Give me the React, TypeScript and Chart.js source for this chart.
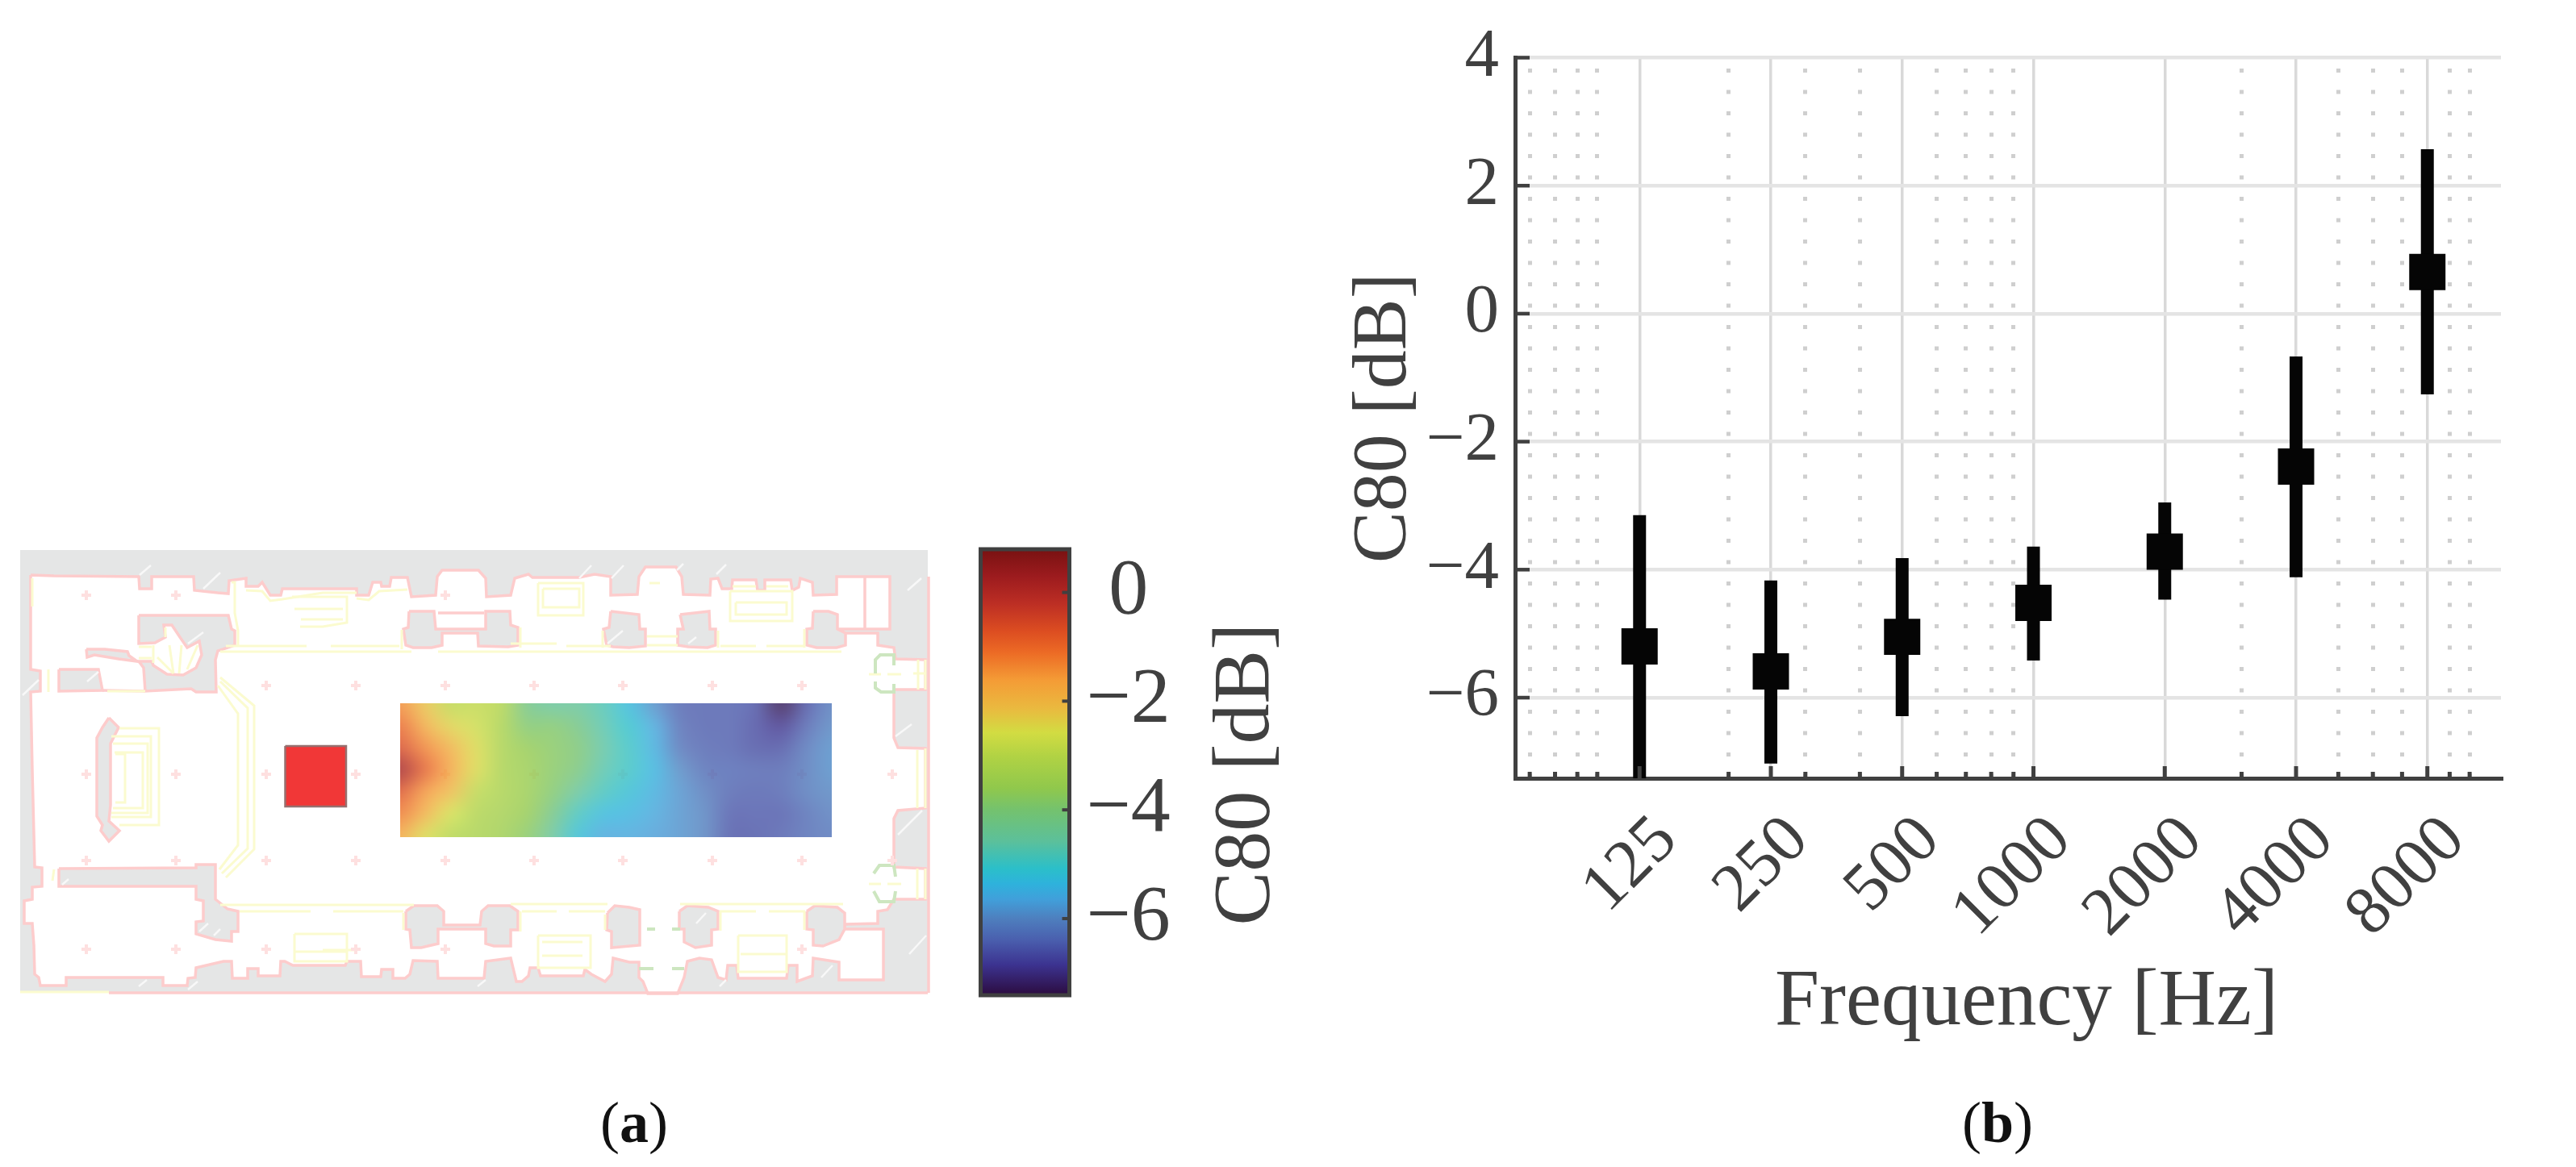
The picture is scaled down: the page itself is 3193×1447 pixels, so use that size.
import React, { useEffect, useRef } from "react";
import { Chart, registerables } from "chart.js";

Chart.register(...registerables);

/* ---------- right panel: C80 against frequency ---------- */
const frequencies = [125, 250, 500, 1000, 2000, 4000, 8000];
const c80Mean = [-5.2, -5.59, -5.05, -4.52, -3.72, -2.39, 0.65];
const c80High = [-3.15, -4.17, -3.82, -3.64, -2.95, -0.67, 2.57];
const c80Low = [-7.9, -7.03, -6.29, -5.42, -4.47, -4.12, -1.26];
const minorFrequencies = [70, 80, 90, 100, 200, 300, 400, 600, 700, 800, 900, 3000, 5000, 6000, 7000, 9000, 10000];
const c80Ticks = [-6, -4, -2, 0, 2, 4];

/* ---------- colour bar ---------- */
const barTicks = [-6, -4, -2, 0];
const cmapValues = [0.77, 0.3, -0.2, -0.71, -1.1, -1.62, -2.13, -2.58, -3.03, -3.6, -4.0, -4.57, -5.08, -5.36, -5.65, -6.0, -6.39, -6.85, -7.4];
const cmapColors = ["#7a1212", "#9c1b1e", "#bc2e24", "#dc4d21", "#ec6a25", "#f49c36", "#eab93f", "#d2dc42", "#b0d244", "#90c84c", "#74c26e", "#5cc09a", "#2bbfc9", "#2eb2dc", "#419fda", "#4e7fbe", "#4a5fae", "#3c3390", "#2c0c40"];

/* ---------- heat map over the floor plan (rows top to bottom) ---------- */
const heatXs = [496, 527.5, 559, 590.5, 622, 653.5, 685, 716.5, 748, 779.5, 811, 842.5, 874, 905.5, 937, 968.5, 1000, 1031.5];
const heatYs = [873, 900, 927, 954, 981, 1008, 1036];
const heatValues = [
  [-1.4, -2.2, -2.9, -2.85, -3.1, -4.2, -4.5, -4.5, -4.8, -5.3, -5.9, -6.4, -6.45, -6.45, -6.6, -7.3, -6.6, -6.1],
  [-1.0, -1.8, -2.4, -2.7, -3.2, -3.9, -3.9, -4.2, -4.7, -5.1, -5.6, -6.3, -6.45, -6.45, -6.65, -6.9, -6.4, -6.0],
  [-0.6, -1.3, -1.9, -2.5, -3.2, -3.6, -3.8, -4.0, -4.6, -5.0, -5.5, -6.2, -6.4, -6.45, -6.6, -6.6, -6.2, -5.9],
  [0.2, -0.9, -1.7, -2.5, -3.2, -3.5, -3.8, -4.1, -4.7, -5.0, -5.4, -5.95, -6.3, -6.35, -6.4, -6.4, -6.15, -5.9],
  [-0.7, -1.5, -2.1, -2.9, -3.2, -3.5, -3.9, -4.5, -4.9, -5.2, -5.5, -5.85, -6.15, -6.4, -6.45, -6.4, -6.15, -6.0],
  [-1.2, -1.9, -2.6, -3.1, -3.3, -3.6, -4.2, -4.9, -5.3, -5.4, -5.6, -5.85, -6.05, -6.5, -6.5, -6.5, -6.3, -6.1],
  [-1.7, -2.5, -3.0, -3.2, -3.4, -3.8, -4.5, -5.2, -5.6, -5.6, -5.7, -5.85, -6.05, -6.55, -6.55, -6.45, -6.3, -6.2],
];
const heatBounds = { left: 496, right: 1031, top: 872, bottom: 1038 };

/* ---------- floor plan, in plan units ---------- */
type P = [number, number];
const outline: P[] = [[25, 682], [1150, 682], [1150, 1231], [25, 1231]];
const openFloor: P[] = [
  [38, 713], [67, 714], [172, 715], [173, 730], [188, 730], [188, 715], [240, 715], [241, 732], [270, 735], [283, 736], [284, 720], [305, 717], [305, 727], [320, 727], [325, 722], [335, 738], [348, 738], [350, 730],
  [442, 730], [442, 738], [457, 738], [462, 722], [472, 722], [473, 727], [483, 727], [485, 716], [505, 716], [510, 740], [540, 738], [542, 715], [548, 707], [593, 707], [602, 717], [603, 740], [633, 738], [638, 717], [655, 712], [660, 716], [718, 716], [737, 712], [757, 715], [757, 738],
  [790, 737], [792, 715], [800, 703], [838, 703], [845, 715], [847, 737], [880, 738], [881, 718], [890, 717], [895, 730], [907, 730], [908, 719], [937, 719], [939, 732], [948, 732], [948, 719], [980, 719], [982, 732], [990, 728], [992, 717], [1007, 722], [1008, 738], [1037, 737], [1037, 715], [1103, 715], [1103, 780], [1038, 780],
  [1048, 785], [1088, 785], [1088, 800], [1108, 803], [1110, 817], [1147, 818], [1147, 855], [1108, 855], [1108, 915], [1113, 927], [1147, 928], [1147, 1002], [1113, 1005], [1108, 1015], [1108, 1075], [1147, 1077], [1147, 1115], [1108, 1115], [1100, 1128], [1088, 1130], [1088, 1145], [1048, 1146], [1042, 1152], [1095, 1152], [1095, 1215], [1040, 1215], [1040, 1193], [1008, 1188],
  [1007, 1210], [988, 1217], [988, 1197], [977, 1197], [975, 1213], [915, 1213], [913, 1197], [902, 1197], [900, 1215], [890, 1212], [882, 1190], [867, 1188], [852, 1192], [848, 1212], [840, 1232], [803, 1232], [797, 1217], [792, 1212], [792, 1193], [780, 1193],
  [760, 1188], [758, 1208], [750, 1217], [733, 1208], [725, 1202], [723, 1210], [670, 1210], [667, 1200], [657, 1200], [655, 1210], [647, 1217], [640, 1217], [633, 1188], [602, 1192], [600, 1213], [543, 1213], [542, 1192], [512, 1191], [508, 1208], [502, 1213], [488, 1213], [487, 1202], [473, 1202], [472, 1211], [448, 1211], [447, 1192], [430, 1192], [428, 1197],
  [363, 1197], [353, 1192], [348, 1192], [347, 1210], [320, 1210], [320, 1201], [307, 1201], [307, 1213], [288, 1213], [287, 1192], [277, 1192], [243, 1200], [242, 1212], [233, 1213], [232, 1222], [202, 1222], [202, 1212], [82, 1212], [82, 1222], [50, 1222], [48, 1212], [43, 1208], [42, 1172], [40, 1145], [30, 1145], [30, 1117], [40, 1115], [40, 1100], [52, 1099], [52, 1076], [43, 1075], [40, 955], [38, 858], [50, 857], [50, 832], [38, 830],
];
const stairBlock: P[] = [[172, 763], [283, 763], [287, 780], [291, 782], [291, 800], [270, 807], [267, 818], [268, 858], [243, 858], [237, 854], [180, 857], [178, 828], [172, 820], [188, 820], [190, 825], [207, 836], [227, 837], [243, 828], [250, 812], [247, 795], [232, 803], [223, 790], [213, 775], [203, 775], [205, 790], [192, 797], [172, 798]];
const stairSpur: P[] = [[107, 805], [130, 805], [158, 808], [160, 813], [170, 820], [147, 817], [117, 812], [108, 815]];
const sideBlock: P[] = [[73, 830], [122, 830], [127, 856], [73, 857]];
const altarSpindle: P[] = [[135, 890], [147, 902], [137, 922], [137, 998], [135, 1018], [148, 1030], [135, 1043], [125, 1030], [127, 1023], [120, 1012], [120, 915], [127, 902]];
const sacristyWall: P[] = [[73, 1077], [243, 1076], [243, 1072], [267, 1072], [267, 1115], [282, 1127], [295, 1130], [295, 1155], [287, 1155], [287, 1167], [267, 1165], [243, 1158], [243, 1143], [252, 1142], [252, 1117], [243, 1115], [243, 1099], [73, 1099]];
const northPierA: P[] = [[507, 758], [538, 758], [540, 780], [602, 780], [602, 758], [632, 758], [633, 775], [642, 778], [642, 800], [630, 802], [593, 801], [592, 785], [548, 785], [548, 800], [535, 803], [512, 803], [503, 800], [500, 780], [506, 778]];
const northPierB: P[] = [[757, 758], [792, 762], [793, 780], [800, 780], [800, 801], [780, 803], [760, 802], [752, 800], [748, 780], [755, 778]];
const northPierC: P[] = [[843, 762], [879, 758], [880, 780], [887, 780], [887, 800], [877, 803], [853, 802], [840, 800], [840, 780], [847, 780]];
const northPierD: P[] = [[1008, 758], [1027, 758], [1038, 762], [1038, 780], [1048, 785], [1048, 800], [1037, 803], [1012, 803], [1000, 800], [1000, 780], [1007, 779]];
const southPierA: P[] = [[503, 1130], [513, 1123], [542, 1123], [550, 1130], [550, 1147], [595, 1147], [597, 1130], [605, 1123], [632, 1123], [642, 1130], [642, 1153], [633, 1153], [633, 1173], [612, 1173], [602, 1170], [602, 1152], [543, 1152], [543, 1170], [522, 1175], [510, 1175], [508, 1153], [503, 1152]];
const southPierB: P[] = [[753, 1132], [762, 1123], [780, 1125], [793, 1128], [793, 1172], [758, 1175], [758, 1155], [752, 1153]];
const southPierC: P[] = [[842, 1130], [852, 1123], [878, 1125], [890, 1130], [890, 1152], [882, 1153], [882, 1172], [862, 1175], [848, 1168], [848, 1152], [842, 1152]];
const southPierD: P[] = [[1000, 1130], [1010, 1123], [1038, 1125], [1047, 1132], [1047, 1152], [1040, 1165], [1020, 1173], [1008, 1172], [1008, 1153], [1000, 1152]];
const wallBlocks = [stairBlock, stairSpur, sideBlock, altarSpindle, sacristyWall, northPierA, northPierB, northPierC, northPierD, southPierA, southPierB, southPierC, southPierD];
const pinkLines: P[][] = [[[1072, 715], [1072, 780]], [[127, 856], [180, 857]], [[543, 760], [600, 760]], [[135, 1231], [1150, 1231]], [[1151, 715], [1151, 1231]]];
const sourceBox: P[] = [[353.5, 925], [429, 925], [429, 1000], [353.5, 1000]];

const yellowLines: P[][] = [
  [[148, 903], [197, 903], [197, 1023], [148, 1023]], [[138, 913], [187, 913], [187, 1013], [138, 1013]], [[140, 922], [183, 922], [183, 1008], [138, 1008]], [[142, 933], [177, 933], [177, 1002], [140, 1002]], [[143, 935], [155, 935], [155, 995], [143, 995]],
  [[273, 840], [315, 875], [315, 1053], [280, 1088]], [[273, 845], [307, 878], [307, 1052], [275, 1083]], [[270, 850], [295, 885], [295, 1048], [272, 1078]],
  [[280, 801], [380, 801]], [[273, 808], [510, 808]], [[410, 801], [495, 801]], [[543, 808], [1043, 808]], [[633, 798], [690, 798]], [[702, 801], [757, 801]], [[893, 801], [937, 801]], [[950, 801], [998, 801]],
  [[273, 1122], [513, 1122]], [[297, 1130], [385, 1130]], [[413, 1130], [500, 1130]], [[633, 1121], [753, 1121]], [[647, 1130], [690, 1130]], [[705, 1130], [750, 1130]], [[843, 1121], [1045, 1121]], [[892, 1130], [937, 1130]], [[953, 1130], [998, 1130]],
  [[362, 740], [430, 740], [430, 772], [400, 777], [372, 777]], [[365, 755], [425, 755]], [[373, 768], [425, 768]],
  [[667, 723], [723, 723], [723, 763], [667, 763], [667, 723]], [[673, 730], [718, 730], [718, 753], [673, 753], [673, 730]],
  [[905, 733], [982, 733], [982, 770], [905, 770], [905, 733]], [[912, 747], [975, 747], [975, 762], [912, 762], [912, 747]],
  [[805, 723], [818, 723]], [[908, 727], [937, 727]], [[950, 727], [977, 727]], [[802, 789], [840, 789]], [[802, 800], [840, 800]],
  [[1077, 836], [1092, 836]], [[1100, 836], [1117, 836]], [[1132, 835], [1147, 835]], [[1138, 818], [1138, 855]], [[1147, 818], [1147, 855]],
  [[1077, 1096], [1092, 1096]], [[1100, 1096], [1117, 1096]], [[1137, 1077], [1137, 1115]], [[1147, 1077], [1147, 1115]], [[1137, 930], [1137, 1002]], [[1147, 928], [1147, 1002]],
  [[25, 1230], [135, 1230]], [[40, 717], [40, 752]], [[67, 1078], [65, 1092]], [[60, 830], [60, 858]], [[133, 857], [180, 857]],
  [[400, 1178], [440, 1178]], [[667, 1160], [732, 1160], [732, 1200], [667, 1200], [667, 1160]], [[672, 1168], [722, 1168]], [[672, 1185], [722, 1185]],
  [[915, 1160], [975, 1160], [975, 1205], [915, 1205], [915, 1160]], [[918, 1183], [975, 1183]], [[365, 1158], [430, 1158], [430, 1192], [365, 1192], [365, 1158]], [[365, 1180], [430, 1180]],
  [[287, 722], [291, 722], [291, 760], [295, 782], [295, 802]], [[305, 732], [325, 733], [335, 745], [350, 743], [400, 735], [442, 735]], [[442, 742], [457, 744], [470, 733], [505, 731]],
  [[498, 781], [498, 805]], [[645, 778], [645, 803]], [[747, 782], [747, 803]], [[890, 782], [890, 803]], [[997, 780], [997, 803]],
  [[500, 1132], [500, 1153]], [[645, 1130], [645, 1155]], [[750, 1134], [750, 1153]], [[893, 1130], [893, 1154]], [[997, 1130], [997, 1153]],
  [[190, 800], [190, 822]], [[195, 815], [215, 835]], [[210, 800], [215, 835]], [[225, 800], [222, 835]], [[245, 800], [232, 830]], [[205, 778], [205, 790]], [[172, 802], [188, 802]], [[172, 816], [188, 816]],
];
const greenLines: P[][] = [
  [[1085, 835], [1085, 818], [1091, 812], [1108, 812], [1108, 825]], [[1085, 845], [1085, 853], [1092, 858], [1108, 858], [1108, 848]],
  [[1083, 1083], [1090, 1073], [1108, 1073], [1110, 1087]], [[1083, 1105], [1090, 1118], [1108, 1118], [1110, 1105]],
  [[792, 1201], [810, 1201]], [[833, 1201], [848, 1201]], [[802, 1152], [812, 1152]], [[833, 1152], [843, 1152]],
];
const scratches: P[][] = [
  [[173, 713], [187, 701]], [[252, 730], [273, 710]], [[28, 862], [48, 843]], [[108, 845], [122, 833]], [[233, 798], [252, 784]],
  [[718, 717], [733, 701]], [[758, 717], [773, 701]], [[753, 798], [772, 782]], [[839, 707], [847, 699]], [[888, 712], [900, 700]],
  [[1125, 732], [1142, 717]], [[1110, 913], [1130, 898]], [[853, 798], [863, 790]], [[77, 1097], [85, 1090]], [[172, 1223], [182, 1215]],
  [[233, 1227], [245, 1217]], [[247, 1155], [258, 1145]], [[265, 1160], [273, 1152]], [[1113, 1035], [1143, 1005]], [[1127, 1183], [1148, 1160]],
  [[863, 1145], [875, 1132]], [[1018, 1212], [1032, 1197]], [[892, 1223], [900, 1215]], [[592, 1223], [602, 1215]],
];
const markerColumns = [107, 218, 330, 441, 552, 662, 772, 883, 994, 1106];
const markerRows = [738, 850, 960, 1067, 1177];
const markerUse = [
  [1, 1, 0, 0, 1, 0, 0, 0, 0, 0],
  [0, 0, 1, 1, 1, 1, 1, 1, 1, 0],
  [1, 1, 1, 1, 1, 1, 1, 1, 1, 1],
  [1, 1, 1, 1, 1, 1, 1, 1, 1, 1],
  [1, 1, 1, 1, 1, 0, 0, 0, 1, 0],
];

const INK = "#404040";
const SERIF = "'Liberation Serif', serif";

const hexRgb = (h: string) => [1, 3, 5].map((i) => parseInt(h.slice(i, i + 2), 16));
function cmap(v: number) {
  if (v >= cmapValues[0]) return hexRgb(cmapColors[0]);
  for (let i = 1; i < cmapValues.length; i++) {
    if (v >= cmapValues[i]) {
      const t = (v - cmapValues[i]) / (cmapValues[i - 1] - cmapValues[i]);
      const a = hexRgb(cmapColors[i]);
      const b = hexRgb(cmapColors[i - 1]);
      return a.map((c, k) => c + (b[k] - c) * t);
    }
  }
  return hexRgb(cmapColors[cmapColors.length - 1]);
}
const pts = (p: P[]) => p.map(([x, y]) => ({ x, y }));
const closed = (p: P[]) => pts([...p, p[0]]);

const heatPlugin = {
  id: "heat",
  afterDatasetsDraw(chart: any) {
    const { ctx, scales } = chart;
    const off = document.createElement("canvas");
    off.width = heatXs.length;
    off.height = heatYs.length;
    const oc = off.getContext("2d")!;
    const img = oc.createImageData(off.width, off.height);
    heatValues.forEach((row, r) =>
      row.forEach((v, c) => {
        const [R, G, B] = cmap(v);
        const k = (r * off.width + c) * 4;
        img.data[k] = R;
        img.data[k + 1] = G;
        img.data[k + 2] = B;
        img.data[k + 3] = 204;
      })
    );
    oc.putImageData(img, 0, 0);
    const hx = (heatXs[1] - heatXs[0]) / 2;
    const hy = (heatYs[1] - heatYs[0]) / 2;
    const x0 = scales.x.getPixelForValue(heatXs[0] - hx);
    const x1 = scales.x.getPixelForValue(heatXs[heatXs.length - 1] + hx);
    const y0 = scales.y.getPixelForValue(heatYs[0] - hy);
    const y1 = scales.y.getPixelForValue(heatYs[heatYs.length - 1] + hy);
    ctx.save();
    ctx.beginPath();
    ctx.rect(
      scales.x.getPixelForValue(heatBounds.left),
      scales.y.getPixelForValue(heatBounds.top),
      scales.x.getPixelForValue(heatBounds.right) - scales.x.getPixelForValue(heatBounds.left),
      scales.y.getPixelForValue(heatBounds.bottom) - scales.y.getPixelForValue(heatBounds.top)
    );
    ctx.clip();
    ctx.imageSmoothingEnabled = true;
    ctx.imageSmoothingQuality = "high";
    ctx.drawImage(off, x0, y0, x1 - x0, y1 - y0);
    ctx.restore();
  },
};

const inwardTicks = {
  id: "inwardTicks",
  afterDatasetsDraw(chart: any) {
    const { ctx, scales, chartArea } = chart;
    ctx.save();
    ctx.strokeStyle = INK;
    ctx.lineCap = "butt";
    ctx.lineWidth = 5;
    scales.x.ticks.forEach((t: any) => {
      const x = scales.x.getPixelForValue(t.value);
      const len = frequencies.includes(t.value) ? 15 : 8;
      ctx.beginPath();
      ctx.moveTo(x, chartArea.bottom);
      ctx.lineTo(x, chartArea.bottom - len);
      ctx.stroke();
    });
    ctx.lineWidth = 4.5;
    scales.y.ticks.forEach((t: any) => {
      const y = scales.y.getPixelForValue(t.value);
      ctx.beginPath();
      ctx.moveTo(chartArea.left, y);
      ctx.lineTo(chartArea.left + 18, y);
      ctx.stroke();
    });
    ctx.restore();
  },
};

const shiftXTitle = {
  id: "shiftXTitle",
  afterLayout(chart: any) {
    const s = chart.scales.x;
    if (s.__shifted) return;
    s.__shifted = true;
    const orig = s.drawTitle.bind(s);
    s.drawTitle = function () {
      const l = s.left;
      s.left = l + 46;
      orig();
      s.left = l;
    };
  },
};

const barFrame = {
  id: "barFrame",
  afterDatasetsDraw(chart: any) {
    const { ctx, scales, chartArea: a } = chart;
    ctx.save();
    ctx.strokeStyle = INK;
    ctx.lineWidth = 5;
    ctx.strokeRect(a.left, a.top, a.right - a.left, a.bottom - a.top);
    ctx.lineWidth = 4;
    scales.y.ticks.forEach((t: any) => {
      const y = scales.y.getPixelForValue(t.value);
      ctx.beginPath();
      ctx.moveTo(a.right, y);
      ctx.lineTo(a.right - 9, y);
      ctx.stroke();
    });
    ctx.translate(1546 - 1180, 960 - 660);
    ctx.rotate(-Math.PI / 2);
    ctx.font = `100px ${SERIF}`;
    ctx.fillStyle = INK;
    ctx.textAlign = "center";
    ctx.textBaseline = "middle";
    ctx.fillText("C80 [dB]", 0, 0);
    ctx.restore();
  },
};

const minusSign = (v: any) => String(v).replace("-", "\u2212");

export default function App() {
  const planRef = useRef<HTMLCanvasElement>(null);
  const barRef = useRef<HTMLCanvasElement>(null);
  const plotRef = useRef<HTMLCanvasElement>(null);

  useEffect(() => {
    const poly = (p: P[], fillColor: string, stroke: string, w = 3.5) => ({
      data: closed(p), showLine: true, fill: "shape", backgroundColor: fillColor, borderColor: stroke, borderWidth: w, pointRadius: 0, tension: 0,
    });
    const line = (p: P[], stroke: string, w: number) => ({
      data: pts(p), showLine: true, fill: false, borderColor: stroke, borderWidth: w, pointRadius: 0, tension: 0,
    });
    const markers: { x: number; y: number }[] = [];
    markerRows.forEach((y, r) => markerColumns.forEach((x, c) => { if (markerUse[r][c]) markers.push({ x, y }); }));

    const planSets: any[] = [
      poly(outline, "#e5e6e6", "#e5e6e6", 0),
      poly(openFloor, "#ffffff", "#fdcccc"),
      ...wallBlocks.map((b) => poly(b, "#e5e6e6", "#fdcccc")),
      ...pinkLines.map((l) => line(l, "#fdcccc", 3.5)),
      ...yellowLines.map((l) => line(l, "#fbfbcf", 3)),
      ...greenLines.map((l) => line(l, "#cde6c0", 4)),
      ...scratches.map((l) => line(l, "#f8f8f8", 2.5)),
      { data: markers, showLine: false, pointStyle: "cross", pointRadius: 6, borderWidth: 4, borderColor: "#fee0e0", backgroundColor: "#fee0e0" },
      poly(sourceBox, "#f13737", "#96706f", 2.5),
    ];
    planSets.reverse();

    const plan = new Chart(planRef.current!, {
      type: "scatter",
      data: { datasets: planSets },
      options: {
        animation: false, responsive: false, events: [],
        layout: { padding: 0, autoPadding: false },
        plugins: { legend: { display: false }, tooltip: { enabled: false } },
        scales: {
          x: { type: "linear", display: false, min: 0, max: 1180 },
          y: { type: "linear", display: false, min: 660, max: 1260, reverse: true },
        },
      },
      plugins: [heatPlugin],
    } as any);

    const bar = new Chart(barRef.current!, {
      type: "bar",
      data: {
        labels: ["C80"],
        datasets: [{
          data: [[cmapValues[cmapValues.length - 1] - 0.1, cmapValues[0] + 0.1]],
          barPercentage: 1, categoryPercentage: 1,
          backgroundColor: (c: any) => {
            const { chart } = c;
            if (!chart.chartArea) return "#000";
            const y = chart.scales.y;
            const top = y.getPixelForValue(cmapValues[0]);
            const bot = y.getPixelForValue(cmapValues[cmapValues.length - 1]);
            const g = chart.ctx.createLinearGradient(0, top, 0, bot);
            cmapValues.forEach((v, i) => g.addColorStop((y.getPixelForValue(v) - top) / (bot - top), cmapColors[i]));
            return g;
          },
        }],
      },
      options: {
        animation: false, responsive: false, events: [],
        layout: { padding: { left: 35.5, top: 21, bottom: 26 }, autoPadding: false },
        plugins: { legend: { display: false }, tooltip: { enabled: false } },
        scales: {
          x: { display: false, grid: { display: false } },
          y: {
            position: "right", min: -7.41, max: 0.795,
            afterBuildTicks: (s: any) => { s.ticks = barTicks.map((value) => ({ value })); },
            afterFit: (s: any) => { s.width = 500 - 145.5; s.paddingTop = 0; s.paddingBottom = 0; },
            border: { display: false },
            grid: { display: false, drawTicks: false },
            ticks: { padding: 21, crossAlign: "center", color: INK, font: { family: SERIF, size: 98 }, callback: minusSign },
          },
        },
      },
      plugins: [barFrame],
    } as any);

    const bars = frequencies.map((f, i) => ({
      data: [{ x: f, y: c80Low[i] }, { x: f, y: c80High[i] }],
      showLine: true, borderColor: "#050505", borderWidth: 16, borderCapStyle: "butt", pointRadius: 0, tension: 0,
    }));
    const plot = new Chart(plotRef.current!, {
      type: "scatter",
      data: {
        datasets: [
          { label: "C80", data: frequencies.map((f, i) => ({ x: f, y: c80Mean[i] })), showLine: false, pointStyle: "rect", pointRadius: 31.8, pointBorderWidth: 0, backgroundColor: "#050505", borderColor: "#050505" },
          ...bars,
        ],
      },
      options: {
        animation: false, responsive: false, events: [],
        layout: { padding: { top: 71.5, right: 93 }, autoPadding: false },
        plugins: { legend: { display: false }, tooltip: { enabled: false } },
        scales: {
          x: {
            type: "logarithmic", min: 64.8, max: 11800,
            afterBuildTicks: (s: any) => { s.ticks = [...minorFrequencies, ...frequencies].sort((a, b) => a - b).map((value) => ({ value })); },
            afterFit: (s: any) => { s.height = 482; },
            border: { color: INK, width: 5, dash: (c: any) => (c.tick && !frequencies.includes(c.tick.value) ? [5, 21.5] : []), dashOffset: 13 },
            grid: {
              drawTicks: false,
              color: (c: any) => (c.tick && frequencies.includes(c.tick.value) ? "#d9d9d9" : "#cfcfcf"),
              lineWidth: (c: any) => (c.tick && frequencies.includes(c.tick.value) ? 3.5 : 5),
            },
            ticks: {
              autoSkip: false, minRotation: 45, maxRotation: 45, padding: 28, labelOffset: 34, color: INK,
              font: { family: SERIF, size: 84 },
              callback: (v: any) => (frequencies.includes(Number(v)) ? String(v) : ""),
            },
            title: { display: true, text: "Frequency [Hz]", color: INK, font: { family: SERIF, size: 99 }, padding: { top: 0, bottom: 144 } },
          },
          y: {
            type: "linear", min: -7.26, max: 4,
            afterBuildTicks: (s: any) => { s.ticks = c80Ticks.map((value) => ({ value })); },
            afterFit: (s: any) => { s.width = 228; },
            border: { color: INK, width: 5 },
            grid: { drawTicks: false, color: "#e4e4e4", lineWidth: 4.5 },
            ticks: { padding: 20, color: INK, font: { family: SERIF, size: 85 }, callback: minusSign },
            title: { display: true, text: "C80 [dB]", color: INK, font: { family: SERIF, size: 96 }, padding: { top: 9, bottom: 0 } },
          },
        },
      },
      plugins: [inwardTicks, shiftXTitle],
    } as any);

    return () => { plan.destroy(); bar.destroy(); plot.destroy(); };
  }, []);

  const abs = (left: number, top: number): React.CSSProperties => ({ position: "absolute", left, top, display: "block" });
  const cap = (x: number): React.CSSProperties => ({
    position: "absolute", left: x - 100, width: 200, top: 1350, textAlign: "center", font: `72px/84px ${SERIF}`, color: "#111",
  });
  return (
    <div style={{ position: "absolute", left: 0, top: 0, width: 3193, height: 1447, overflow: "hidden", background: "#fff", filter: "blur(0.7px)" }}>
      <canvas ref={planRef} width={1180} height={600} style={abs(0, 660)} />
      <canvas ref={barRef} width={500} height={600} style={abs(1180, 660)} />
      <canvas ref={plotRef} width={1543} height={1447} style={abs(1650, 0)} />
      <div style={cap(786)}>(<b>a</b>)</div>
      <div style={cap(2476)}>(<b>b</b>)</div>
    </div>
  );
}
